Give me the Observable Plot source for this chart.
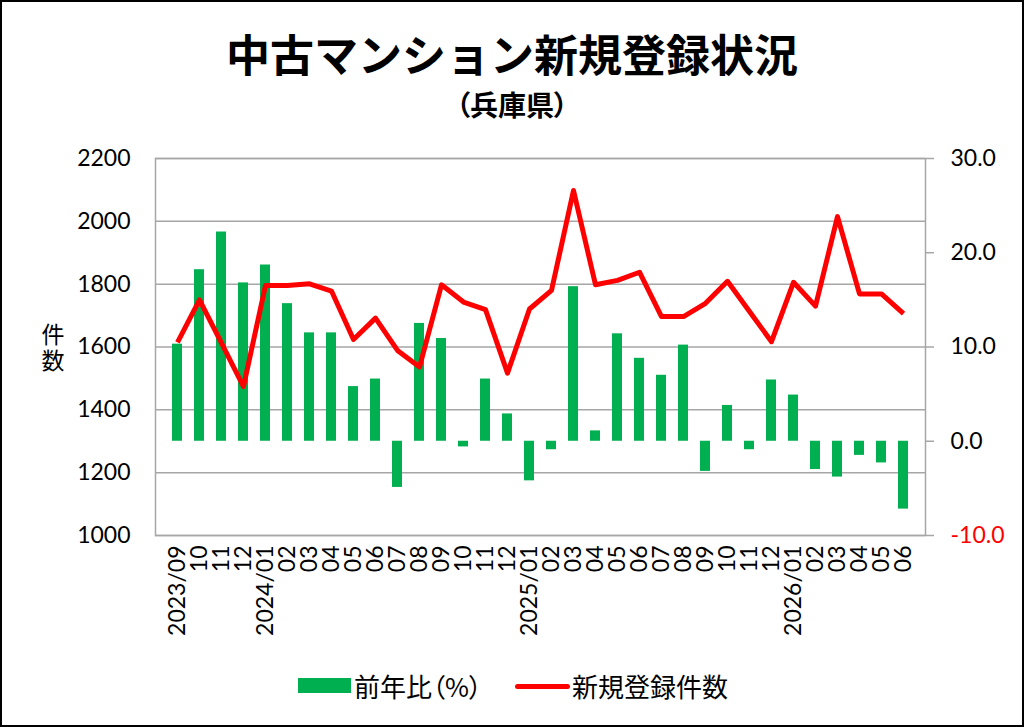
<!DOCTYPE html>
<html>
<head>
<meta charset="utf-8">
<script src="https://cdn.jsdelivr.net/npm/d3@7"></script>
<script src="https://cdn.jsdelivr.net/npm/@observablehq/plot@0.6"></script>
<style>
  html, body { margin: 0; padding: 0; background: #fff; }
  #wrap { position: relative; width: 1024px; height: 727px; overflow: hidden; background: #fff; }
  #frame { position: absolute; left: 0; top: 0; width: 1024px; height: 727px; box-sizing: border-box; border: 2px solid #000; pointer-events: none; }
  .abs { position: absolute; white-space: nowrap; color: #000; }
  .cjk { font-family: "Noto Sans CJK JP", "Noto Sans", sans-serif; }
  #chart { position: absolute; left: 0; top: 0; }
</style>
</head>
<body>
<div id="wrap">
  <div class="abs cjk" style="left:0;top:31px;width:1024px;text-align:center;font-size:44px;line-height:44px;font-weight:700;">中古マンション新規登録状況</div>
  <div class="abs cjk" style="left:0;top:90px;width:1024px;text-align:center;font-size:28px;line-height:28px;font-weight:700;font-feature-settings:'palt';">（兵庫県）</div>
  <div class="abs cjk" style="left:41px;top:323px;font-size:23px;line-height:23px;writing-mode:vertical-rl;text-orientation:upright;letter-spacing:3px;">件数</div>
  <div id="chart"></div>
  <div class="abs" style="left:298px;top:678px;width:53px;height:15px;background:#00B050;"></div>
  <div class="abs cjk" style="left:354px;top:670px;font-size:26px;line-height:32px;font-feature-settings:'palt';">前年比（%）</div>
  <div class="abs" style="left:515px;top:684px;width:55px;height:5px;background:#FF0000;border-radius:3px;"></div>
  <div class="abs cjk" style="left:572px;top:670px;font-size:26px;line-height:32px;">新規登録件数</div>
  <div id="frame"></div>
</div>
<script>
// Months (unique keys) and their displayed tick labels
const months = [
  "2023/09","2023/10","2023/11","2023/12",
  "2024/01","2024/02","2024/03","2024/04","2024/05","2024/06","2024/07","2024/08","2024/09","2024/10","2024/11","2024/12",
  "2025/01","2025/02","2025/03","2025/04","2025/05","2025/06","2025/07","2025/08","2025/09","2025/10","2025/11","2025/12",
  "2026/01","2026/02","2026/03","2026/04","2026/05","2026/06"
];
const tickLabels = [
  "2023/09","10","11","12",
  "2024/01","02","03","04","05","06","07","08","09","10","11","12",
  "2025/01","02","03","04","05","06","07","08","09","10","11","12",
  "2026/01","02","03","04","05","06"
];
// 前年比(%) — right axis
const yoy = [
  10.3, 18.2, 22.2, 16.8,
  18.7, 14.6, 11.5, 11.5, 5.8, 6.6, -4.9, 12.5, 10.9, -0.6, 6.6, 2.9,
  -4.2, -0.9, 16.4, 1.1, 11.4, 8.8, 7.0, 10.2, -3.2, 3.8, -0.9, 6.5,
  4.9, -3.0, -3.8, -1.5, -2.3, -7.2
];
// 新規登録件数 — left axis
const counts = [
  1615, 1750, 1612, 1474,
  1796, 1796, 1801, 1778, 1624, 1692, 1589, 1536, 1798, 1743, 1719, 1517,
  1721, 1780, 2098, 1798, 1812, 1838, 1697, 1697, 1739, 1809, 1713, 1617,
  1806, 1730, 2015, 1769, 1769, 1706
];
const leftTicks = [1000, 1200, 1400, 1600, 1800, 2000, 2200];
const rightTicks = [-10, 0, 10, 20, 30];

// Left domain [1000, 2200] <-> right domain [-10, 30]
const leftDomain = [1000, 2200];
const rightDomain = [-10, 30];
const toLeft = v => leftDomain[0] + (v - rightDomain[0]) * (leftDomain[1] - leftDomain[0]) / (rightDomain[1] - rightDomain[0]);
const toRight = y => rightDomain[0] + (y - leftDomain[0]) * (rightDomain[1] - rightDomain[0]) / (leftDomain[1] - leftDomain[0]);

const rows = months.map((m, i) => ({month: m, label: tickLabels[i], yoy: yoy[i], count: counts[i]}));
const labelOf = new Map(rows.map(d => [d.month, d.label]));

const GREEN = "#00B050", RED = "#FF0000", GRID = "#a6a6a6";

const chart = Plot.plot({
  width: 1024,
  height: 727,
  marginTop: 158,
  marginBottom: 192,
  marginLeft: 155,
  marginRight: 99,
  style: {fontFamily: "Lato, 'Open Sans', sans-serif", fontSize: "23px", color: "#000", background: "transparent"},
  x: {type: "band", domain: months, paddingInner: 0.53, paddingOuter: 0.265},
  y: {domain: leftDomain},
  marks: [
    Plot.gridY(leftTicks, {stroke: GRID, strokeOpacity: 1, strokeWidth: 1.5}),
    Plot.barY(rows, {x: "month", y1: toLeft(0), y2: d => toLeft(d.yoy), fill: GREEN}),
    Plot.line(rows, {x: "month", y: "count", stroke: RED, strokeWidth: 5, strokeLinejoin: "round", strokeLinecap: "butt"}),
    Plot.frame({stroke: GRID, strokeWidth: 1.5}),
    Plot.axisY(leftTicks, {anchor: "left", tickSize: 0, tickPadding: 25, fontSize: 23, fill: "#000", tickFormat: d => String(d), label: null}),
    Plot.axisY(rightTicks.filter(v => v >= 0).map(toLeft), {anchor: "right", tickSize: 8, tickPadding: 17, stroke: GRID, strokeWidth: 1.5, fontSize: 23, fill: "#000", tickFormat: y => toRight(y).toFixed(1), label: null}),
    Plot.axisY(rightTicks.filter(v => v < 0).map(toLeft), {anchor: "right", tickSize: 8, tickPadding: 17, stroke: GRID, strokeWidth: 1.5, fontSize: 23, fill: RED, tickFormat: y => toRight(y).toFixed(1), label: null}),
    Plot.axisX({tickRotate: -90, tickSize: 0, tickPadding: 10, fontSize: 23, fill: "#000", tickFormat: d => labelOf.get(d), label: null})
  ]
});
document.getElementById("chart").appendChild(chart);
</script>
</body>
</html>
